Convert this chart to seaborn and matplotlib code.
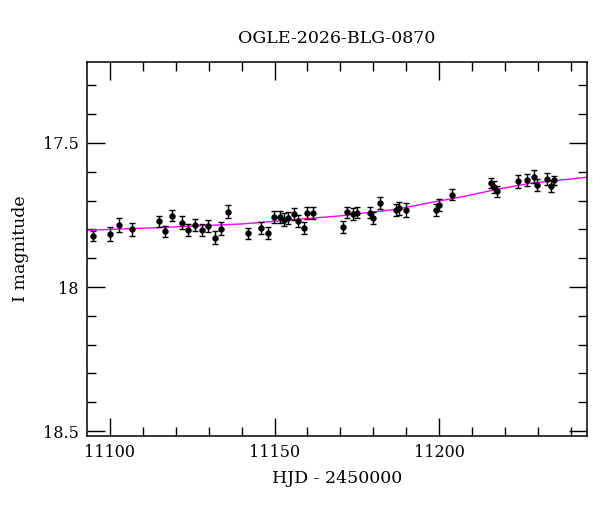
import numpy as np
import pandas as pd
import matplotlib
matplotlib.use("Agg")
import matplotlib.pyplot as plt
from matplotlib.ticker import MultipleLocator, FuncFormatter
import seaborn as sns

# Observations (HJD - 2450000, I magnitude, error)
hjd = [11095.0, 11100.0, 11102.9, 11106.9, 11115.0, 11116.9, 11118.9, 11121.9,
       11123.9, 11125.9, 11127.9, 11129.9, 11131.9, 11133.9, 11135.9, 11142.0,
       11146.0, 11148.0, 11149.8, 11151.8, 11152.8, 11154.1, 11155.9, 11157.0,
       11158.9, 11159.9, 11161.8, 11170.9, 11172.0, 11173.9, 11175.0, 11178.9,
       11179.9, 11182.0, 11186.8, 11187.8, 11189.8, 11198.9, 11199.8, 11203.9,
       11215.7, 11216.7, 11217.6, 11223.8, 11226.7, 11228.6, 11229.7, 11232.6,
       11233.8, 11234.9]
mag = [17.823, 17.817, 17.785, 17.800, 17.771, 17.807, 17.753, 17.777,
       17.802, 17.786, 17.802, 17.788, 17.829, 17.797, 17.739, 17.814,
       17.796, 17.813, 17.757, 17.757, 17.766, 17.761, 17.745, 17.771,
       17.794, 17.744, 17.744, 17.792, 17.741, 17.747, 17.742, 17.742,
       17.760, 17.709, 17.732, 17.727, 17.733, 17.732, 17.715, 17.679,
       17.638, 17.652, 17.668, 17.633, 17.628, 17.617, 17.646, 17.625,
       17.649, 17.630]
err = [0.017, 0.024, 0.024, 0.023, 0.019, 0.019, 0.019, 0.022,
       0.020, 0.021, 0.020, 0.022, 0.023, 0.023, 0.023, 0.019,
       0.021, 0.021, 0.021, 0.021, 0.022, 0.021, 0.021, 0.022,
       0.021, 0.021, 0.021, 0.021, 0.018, 0.020, 0.020, 0.020,
       0.021, 0.020, 0.021, 0.022, 0.024, 0.021, 0.020, 0.018,
       0.018, 0.020, 0.020, 0.022, 0.020, 0.022, 0.020, 0.020,
       0.020, 0.017]

# Model curve
model_hjd = [11093.2, 11116.3, 11140.1, 11169.9, 11187.1, 11197.2, 11207.3,
             11217.4, 11227.5, 11244.8]
model_mag = [17.803, 17.793, 17.781, 17.753, 17.730, 17.707, 17.686,
             17.661, 17.640, 17.619]

title = "OGLE-2026-BLG-0870"
xlabel = "HJD - 2450000"
ylabel = "I magnitude"

sns.set_theme(style="ticks")
plt.rcParams['font.family'] = ['DejaVu Serif']
plt.rcParams['text.color'] = 'black'
plt.rcParams['axes.labelcolor'] = 'black'
plt.rcParams['xtick.color'] = 'black'
plt.rcParams['ytick.color'] = 'black'

fig = plt.figure(figsize=(6.0, 5.12), dpi=100)
ax = fig.add_axes([0.1455, 0.1484, 0.8328, 0.7305])

obs = pd.DataFrame({"hjd": hjd, "mag": mag, "err": err})
model = pd.DataFrame({"hjd": model_hjd, "mag": model_mag})

sns.lineplot(data=model, x="hjd", y="mag", ax=ax, color="#ff00ff",
             linewidth=1.0, sort=True, estimator=None, zorder=2)

eb = ax.errorbar(obs["hjd"], obs["mag"], yerr=obs["err"], fmt="none",
                 ecolor="black", elinewidth=1.0, capsize=2.3, capthick=1.0,
                 zorder=3)
for cl in eb[1]:
    cl.set_color("#444444")
sns.scatterplot(data=obs, x="hjd", y="mag", ax=ax, color="black", s=18,
                edgecolor="black", linewidth=0.3, zorder=4)

ax.set_xlim(11093.2, 11244.8)
ax.set_ylim(18.517, 17.219)

ax.xaxis.set_major_locator(MultipleLocator(50))
ax.xaxis.set_minor_locator(MultipleLocator(10))
ax.yaxis.set_major_locator(MultipleLocator(0.5))
ax.yaxis.set_minor_locator(MultipleLocator(0.1))
ax.yaxis.set_major_formatter(FuncFormatter(lambda v, p: f"{v:g}"))
ax.xaxis.set_major_formatter(FuncFormatter(lambda v, p: f"{v:g}"))

ax.tick_params(which="both", direction="in", top=True, right=True,
               color="black", labelcolor="black", width=1.0,
               labelsize=11.5, pad=6)
ax.tick_params(which="major", length=13)
ax.tick_params(which="minor", length=6.5)

for s in ax.spines.values():
    s.set_visible(True)
    s.set_color("black")
    s.set_linewidth(1.1)

ax.set_title(title, fontsize=12.5, pad=14, color="black")
ax.set_xlabel(xlabel, fontsize=12.5, labelpad=6, color="black")
ax.set_ylabel(ylabel, fontsize=12.5, labelpad=10, color="black")

fig.savefig("out.png", dpi=100)
